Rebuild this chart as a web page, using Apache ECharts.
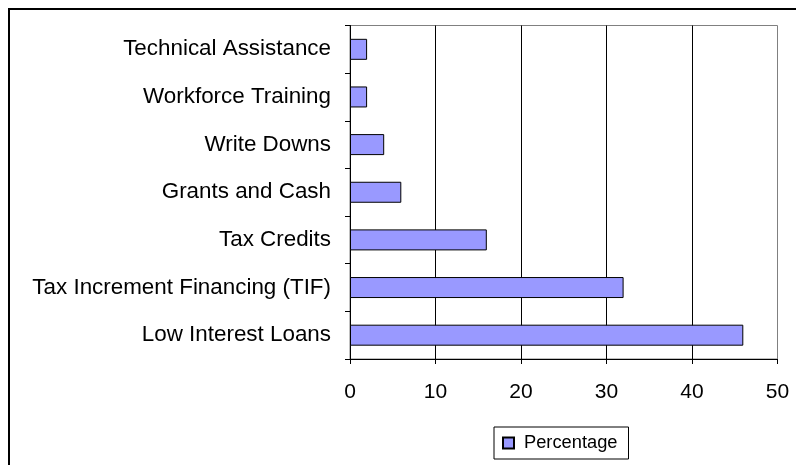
<!DOCTYPE html>
<html>
<head>
<meta charset="utf-8">
<script src="https://cdn.jsdelivr.net/npm/echarts@6/dist/echarts.min.js"></script>
<style>
  html, body { margin: 0; padding: 0; background: #fff; }
  #chart { width: 796px; height: 465px; }
</style>
</head>
<body>
<div id="chart"></div>
<script>
// Incentive types, listed top to bottom
const categories = [
  'Technical Assistance',
  'Workforce Training',
  'Write Downs',
  'Grants and Cash',
  'Tax Credits',
  'Tax Increment Financing (TIF)',
  'Low Interest Loans'
];
// Share of respondents using each incentive (%)
const percentage = [2, 2, 4, 6, 16, 32, 46];
const seriesName = 'Percentage';
const xTicks = { min: 0, max: 50, interval: 10 };

const FONT = '"Liberation Sans", Arial, sans-serif';

const chart = echarts.init(document.getElementById('chart'), null, { renderer: 'canvas' });
chart.setOption({
  animation: false,
  backgroundColor: '#ffffff',
  textStyle: { fontFamily: FONT },
  graphic: [{
    type: 'rect',
    z: 100,
    shape: { x: 9, y: 9, width: 900, height: 600 },
    style: { fill: 'none', stroke: '#000', lineWidth: 2 }
  }],
  grid: {
    left: 350, right: 18.5, top: 25.5, bottom: 106,
    show: true, borderColor: '#808080', borderWidth: 1, backgroundColor: 'transparent'
  },
  legend: {
    data: [seriesName],
    left: 494, top: 427,
    orient: 'horizontal',
    icon: 'rect',
    itemWidth: 11, itemHeight: 11, itemGap: 6,
    borderColor: '#000', borderWidth: 1,
    padding: [7, 11, 7, 8],
    textStyle: { fontFamily: FONT, fontSize: 18.3, color: '#000', padding: [0, 0, 0, 5] }
  },
  xAxis: {
    type: 'value',
    min: xTicks.min, max: xTicks.max, interval: xTicks.interval,
    axisLine: { show: true, lineStyle: { color: '#000', width: 1 } },
    axisTick: { show: true, inside: false, length: 5, lineStyle: { color: '#000' } },
    axisLabel: { fontFamily: FONT, fontSize: 21, color: '#000', margin: 23 },
    splitLine: { show: true, showMinLine: false, showMaxLine: false, lineStyle: { color: '#000', width: 1 } }
  },
  yAxis: {
    type: 'category',
    inverse: true,
    data: categories,
    axisLine: { show: true, lineStyle: { color: '#000', width: 1 } },
    axisTick: { show: true, inside: false, length: 5, lineStyle: { color: '#000' } },
    axisLabel: { fontFamily: FONT, fontSize: 22.4, color: '#000', margin: 19 },
    splitLine: { show: false }
  },
  series: [{
    name: seriesName,
    type: 'bar',
    data: percentage,
    barWidth: 21,
    itemStyle: { color: '#9999FF', borderColor: '#000', borderWidth: 1 }
  }]
});
</script>
</body>
</html>
